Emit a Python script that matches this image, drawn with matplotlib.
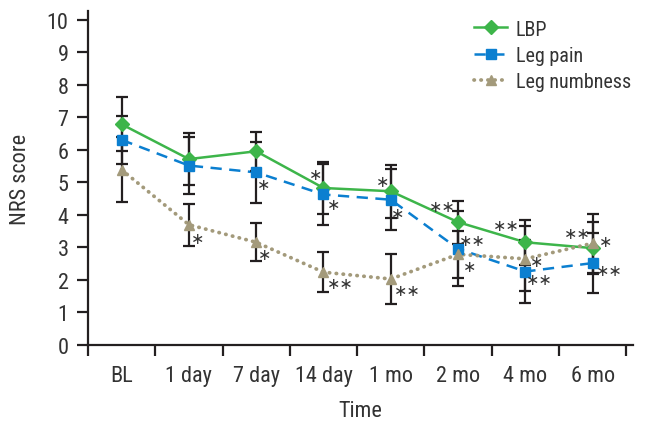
import matplotlib
matplotlib.use("Agg")
import matplotlib.pyplot as plt
from matplotlib.lines import Line2D
import numpy as np

# ---- data ----
time_labels = ['BL', '1 day', '7 day', '14 day', '1 mo', '2 mo', '4 mo', '6 mo']
lbp = [6.78, 5.71, 5.95, 4.82, 4.72, 3.77, 3.15, 2.97]
lbp_err = [0.83, 0.80, 0.60, 0.79, 0.82, 0.66, 0.70, 0.80]
leg_pain = [6.30, 5.51, 5.30, 4.62, 4.46, 2.95, 2.25, 2.51]
leg_pain_err = [0.73, 0.87, 0.95, 0.95, 0.93, 1.15, 0.97, 0.92]
leg_numb = [5.38, 3.69, 3.15, 2.23, 2.02, 2.78, 2.64, 3.12]
leg_numb_err = [1.00, 0.65, 0.58, 0.61, 0.78, 0.72, 1.00, 0.90]

# significance marks: (time index, label)
lbp_sig = [(3, '*'), (4, '*'), (5, '**'), (6, '**'), (7, '*')]
leg_pain_sig = [(2, '*'), (3, '*'), (4, '*'), (5, '**'), (6, '**'), (7, '**')]
leg_numb_sig = [(1, '*'), (2, '*'), (3, '**'), (4, '**'), (5, '*'), (6, '*'), (7, '**')]

FONT = ['Roboto Condensed', 'Liberation Sans Narrow', 'Roboto', 'DejaVu Sans']
plt.rcParams['font.family'] = FONT

c_lbp = '#3db54a'
c_pain = '#0b7fd0'
c_numb = '#a39a7b'
c_err = '#231f20'
c_txt = '#333333'

fig = plt.figure(figsize=(6.46, 4.31), dpi=100)
ax = fig.add_axes([0.1362, 0.198, 0.8437, 0.773])

x = np.arange(len(time_labels))

series = [
    ('LBP', lbp, lbp_err, c_lbp, '-', 'D', 7.5),
    ('Leg pain', leg_pain, leg_pain_err, c_pain, (0, (4.5, 3.0)), 's', 6.5),
    ('Leg numbness', leg_numb, leg_numb_err, c_numb, (0, (0.1, 1.75)), '^', 7.5),
]

def lw_of(m):
    return 2.7 if m == '^' else 1.8

for name, y, e, c, ls, m, ms in series:
    ax.plot(x, y, color=c, linestyle=ls, lw=lw_of(m), zorder=2,
            dash_capstyle=('round' if m == '^' else 'butt'), solid_capstyle='butt')
for name, y, e, c, ls, m, ms in series:
    ax.errorbar(x, y, yerr=e, fmt='none', ecolor=c_err, elinewidth=1.6,
                capsize=4.2, capthick=1.6, zorder=3)
for name, y, e, c, ls, m, ms in series:
    ax.plot(x, y, linestyle='none', marker=m, ms=ms, color=c, mec=c, zorder=4)

# significance annotations (offsets in points from the data point)
offsets = {
    'LBP': {3: (-6, 10), 4: (-6, 7), 5: (-11, 11), 6: (-14, 12), 7: (9, 5)},
    'Leg pain': {2: (5, -9), 3: (7, -7), 4: (5, -10), 5: (10, 6), 6: (10, -6), 7: (12, -5)},
    'Leg numbness': {1: (6, -10), 2: (6, -9), 3: (12, -8), 4: (12, -8), 5: (8, -9), 6: (8, -2), 7: (-11, 7)},
}
for name, y, sig in [('LBP', lbp, lbp_sig), ('Leg pain', leg_pain, leg_pain_sig),
                     ('Leg numbness', leg_numb, leg_numb_sig)]:
    for i, lab in sig:
        dx, dy = offsets[name][i]
        ax.annotate(lab.replace('*', '\u2217'), (x[i], y[i]), xytext=(dx, dy),
                    textcoords='offset points', ha='center', va='center',
                    fontsize=11.5, color=c_txt, family='DejaVu Sans', zorder=5)

ax.set_xlim(-0.5, 7.6)
ax.set_ylim(0, 10.25)
ax.set_yticks(range(0, 11))
ax.set_xticks(np.arange(-0.5, 8, 1.0))
ax.set_xticklabels([])
ax.set_xticks(x, minor=True)
ax.set_xticklabels(time_labels, minor=True)
ax.tick_params(axis='x', which='minor', length=0, pad=15, labelsize=16, colors=c_txt)
ax.tick_params(axis='x', which='major', length=8, width=1.6, direction='out', color=c_err)
ax.tick_params(axis='y', length=8, width=1.6, direction='out', pad=6, labelsize=16,
               color=c_err, labelcolor=c_txt)
for s in ['top', 'right']:
    ax.spines[s].set_visible(False)
for s in ['left', 'bottom']:
    ax.spines[s].set_linewidth(1.6)
    ax.spines[s].set_color(c_err)

ax.set_ylabel('NRS score', fontsize=16, color=c_txt, labelpad=11)
ax.set_xlabel('Time', fontsize=16, color=c_txt, labelpad=10)

handles = [Line2D([], [], color=c, linestyle=ls, lw=lw_of(m),
                  marker=m, ms=ms, mec=c, dash_capstyle=('round' if m == '^' else 'butt'))
           for name, y, e, c, ls, m, ms in series]
leg = ax.legend(handles, [s[0] for s in series], loc='upper left',
                bbox_to_anchor=(0.705, 0.982), frameon=False, fontsize=14.5,
                handlelength=1.65, handletextpad=0.4, labelspacing=0.35,
                borderaxespad=0, borderpad=0.1)
for t in leg.get_texts():
    t.set_color(c_txt)

fig.savefig('out.png', dpi=100)
